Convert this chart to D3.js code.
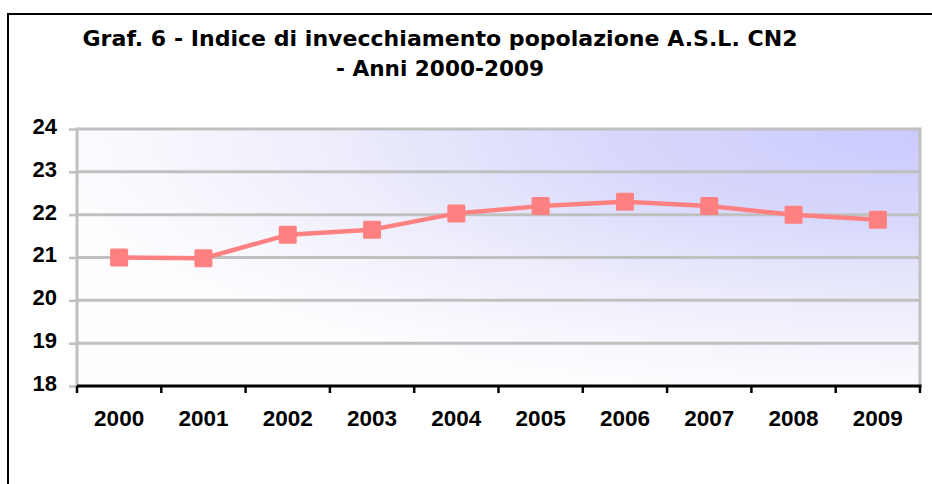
<!DOCTYPE html>
<html>
<head>
<meta charset="utf-8">
<script src="https://cdn.jsdelivr.net/npm/d3@7"></script>
<style>
  html, body { margin: 0; padding: 0; background: #ffffff; }
  svg { display: block; }
</style>
</head>
<body>
<svg id="chart" width="932" height="484"></svg>
<script>
const titleLines = ["Graf. 6 - Indice di  invecchiamento  popolazione  A.S.L.  CN2", "- Anni  2000-2009"];
const years = ["2000", "2001", "2002", "2003", "2004", "2005", "2006", "2007", "2008", "2009"];
const values = [21.0, 20.98, 21.53, 21.65, 22.03, 22.2, 22.3, 22.2, 22.0, 21.88];
const yTicks = [18, 19, 20, 21, 22, 23, 24];

const svg = d3.select("#chart");
const W = 932, H = 484;
const plot = { left: 77, right: 920, top: 129, bottom: 386 };

// outer frame (left and top edges visible)
svg.append("path")
  .attr("d", `M8,${H + 5} L8,14 L${W + 5},14`)
  .attr("fill", "none").attr("stroke", "#000").attr("stroke-width", 2);

// title
const titleX = 440;
const titleWidths = [715, 208];
const titleY = [46, 76];
titleLines.forEach((t, i) => {
  svg.append("text")
    .attr("x", titleX).attr("y", titleY[i])
    .attr("text-anchor", "middle")
    .attr("font-family", "DejaVu Sans, Verdana, sans-serif")
    .attr("font-weight", "bold")
    .attr("font-size", 22)
    .attr("textLength", titleWidths[i])
    .attr("lengthAdjust", "spacingAndGlyphs")
    .attr("fill", "#000")
    .text(t);
});

// scales
const x = d3.scaleBand().domain(years).range([plot.left, plot.right]).padding(0);
const y = d3.scaleLinear().domain([18, 24]).range([plot.bottom, plot.top]);

// background gradient
const defs = svg.append("defs");
const grad = defs.append("radialGradient")
  .attr("id", "bg")
  .attr("cx", 1).attr("cy", 0).attr("r", 1.05)
  .attr("fx", 1).attr("fy", 0);
grad.append("stop").attr("offset", "0").attr("stop-color", "#CACAFF");
grad.append("stop").attr("offset", "0.35").attr("stop-color", "#D8D8FC");
grad.append("stop").attr("offset", "0.7").attr("stop-color", "#EFEFFC");
grad.append("stop").attr("offset", "1").attr("stop-color", "#FDFDFF");

svg.append("rect")
  .attr("x", plot.left).attr("y", plot.top)
  .attr("width", plot.right - plot.left).attr("height", plot.bottom - plot.top)
  .attr("fill", "url(#bg)");

// gridlines
svg.append("g").selectAll("line").data(yTicks.filter(d => d > 18)).join("line")
  .attr("x1", plot.left).attr("x2", plot.right)
  .attr("y1", d => y(d)).attr("y2", d => y(d))
  .attr("stroke", "#C0C0C0").attr("stroke-width", 3);

// right border
svg.append("line")
  .attr("x1", plot.right).attr("x2", plot.right)
  .attr("y1", plot.top - 1.5).attr("y2", plot.bottom)
  .attr("stroke", "#C0C0C0").attr("stroke-width", 3);

// y axis
const yAxis = d3.axisLeft(y).tickValues(yTicks).tickSize(8).tickPadding(12).tickFormat(d3.format("d"));
const gy = svg.append("g").attr("transform", `translate(${plot.left},0)`).call(yAxis);
gy.select(".domain").attr("stroke", "#C0C0C0").attr("stroke-width", 3)
  .attr("d", `M0,${plot.top - 1.5}V${plot.bottom}`);
gy.selectAll(".tick line").attr("stroke", "#C0C0C0").attr("stroke-width", 2.5);
gy.selectAll(".tick text")
  .attr("font-family", "'Liberation Sans', Arial, sans-serif")
  .attr("font-weight", "bold").attr("font-size", 22).attr("fill", "#000")
  .attr("dy", "0.2em");

// x axis
const gx = svg.append("g").attr("transform", `translate(0,${plot.bottom})`);
gx.append("line")
  .attr("x1", plot.left).attr("x2", plot.right + 1.5)
  .attr("y1", 0).attr("y2", 0)
  .attr("stroke", "#000").attr("stroke-width", 3);
const boundaries = years.map(d => x(d)).concat([plot.right]);
gx.selectAll("line.tk").data(boundaries).join("line").attr("class", "tk")
  .attr("x1", d => d).attr("x2", d => d)
  .attr("y1", 0).attr("y2", 7)
  .attr("stroke", "#000").attr("stroke-width", 2.5);
gx.selectAll("text").data(years).join("text")
  .attr("x", d => x(d) + x.bandwidth() / 2)
  .attr("y", 40)
  .attr("text-anchor", "middle")
  .attr("font-family", "'Liberation Sans', Arial, sans-serif")
  .attr("font-weight", "bold").attr("font-size", 22.5).attr("fill", "#000")
  .text(d => d);

// line
const line = d3.line()
  .x((d, i) => x(years[i]) + x.bandwidth() / 2)
  .y(d => y(d));
svg.append("path").datum(values)
  .attr("d", line)
  .attr("fill", "none").attr("stroke", "#FF8080").attr("stroke-width", 4.5)
  .attr("stroke-linejoin", "round");

// markers
const ms = 18;
svg.append("g").selectAll("rect").data(values).join("rect")
  .attr("x", (d, i) => x(years[i]) + x.bandwidth() / 2 - ms / 2)
  .attr("y", d => y(d) - ms / 2)
  .attr("width", ms).attr("height", ms)
  .attr("rx", 1.5)
  .attr("fill", "#FF8080");
</script>
</body>
</html>
